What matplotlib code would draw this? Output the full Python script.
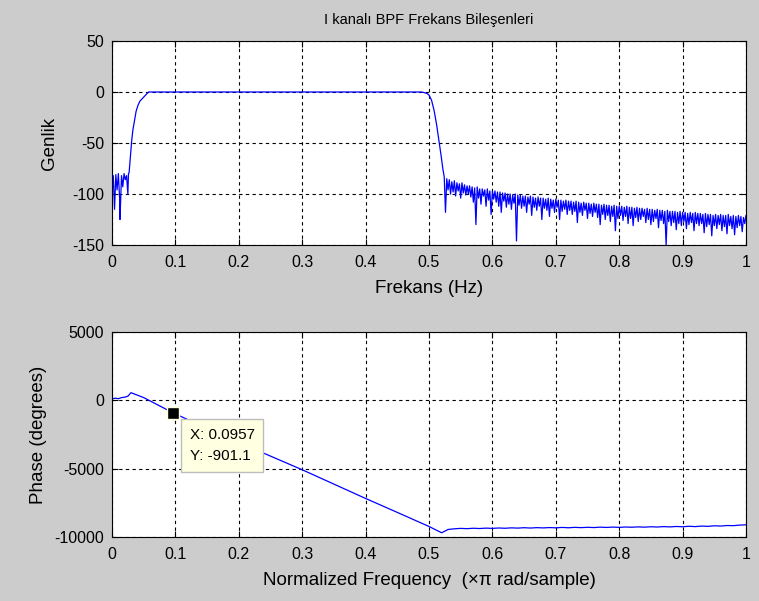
import numpy as np
import matplotlib
matplotlib.use("Agg")
import matplotlib.pyplot as plt

plt.rcParams['axes.unicode_minus'] = False
plt.rcParams['font.family'] = ['Liberation Sans', 'DejaVu Sans']

# ---------------- data: magnitude (dB) ----------------
low_x = [0.000, 0.002, 0.004, 0.006, 0.008, 0.010, 0.012, 0.0126, 0.015, 0.017,
         0.019, 0.021, 0.023, 0.025, 0.026]
low_y = [-100, -82, -115, -81, -96, -80, -104, -125, -82, -93,
         -80, -86, -82, -100, -80]
rise_x = [0.027, 0.029, 0.031, 0.033, 0.036, 0.038, 0.041, 0.044, 0.047,
          0.050, 0.053, 0.056, 0.058]
rise_y = [-79, -63, -48, -37, -26, -19, -13, -9, -7, -5, -3, -1, 0]
pass_x = [0.060, 0.488]
pass_y = [0, 0]
fall_x = [0.492, 0.497, 0.500, 0.504, 0.508, 0.512, 0.516, 0.519, 0.522]
fall_y = [-0.5, -1.5, -3, -8, -18, -32, -49, -62, -76]

stop_start, stop_step = 0.524, 0.004
stop_peaks = [
    -83, -85, -86, -88, -87, -89, -90, -89, -91, -92,
    -92, -93, -94, -93, -95, -95, -96, -95, -97, -97,
    -97, -98, -98, -99, -99, -100, -100, -101, -100, -101,
    -101, -102, -102, -103, -102, -103, -104, -103, -104, -104,
    -105, -104, -105, -106, -105, -106, -106, -107, -106, -107,
    -107, -108, -107, -108, -109, -108, -109, -109, -110, -109,
    -110, -110, -111, -110, -111, -111, -112, -111, -112, -112,
    -112, -113, -112, -113, -113, -114, -113, -114, -114, -115,
    -114, -115, -115, -116, -115, -116, -116, -117, -116, -117,
    -117, -117, -118, -117, -118, -118, -119, -118, -119, -118,
    -119, -119, -120, -119, -120, -120, -121, -120, -121, -120,
    -121, -121, -120, -122, -121, -122, -121, -122, -123, -121,
]
stop_dips = [
    -118, -96, -100, -98, -102, -97, -104, -99, -101, -100,
    -103, -108, -130, -104, -110, -102, -112, -106, -120, -105,
    -108, -112, -118, -107, -113, -110, -115, -109, -146, -111,
    -114, -112, -118, -110, -121, -113, -116, -112, -125, -114,
    -116, -122, -114, -118, -113, -125, -117, -115, -120, -116,
    -120, -117, -128, -118, -121, -116, -124, -119, -122, -118,
    -123, -130, -120, -125, -121, -127, -122, -136, -124, -121,
    -126, -122, -129, -124, -131, -123, -127, -125, -122, -128,
    -125, -130, -127, -124, -133, -126, -129, -150, -127, -131,
    -128, -135, -129, -131, -127, -134, -130, -128, -136, -129,
    -131, -129, -138, -132, -130, -141, -131, -134, -130, -136,
    -132, -139, -131, -134, -140, -133, -131, -137, -129,
]

# ---------------- data: phase (degrees) ----------------
ph_x = [0.000, 0.005, 0.010, 0.015, 0.020, 0.025, 0.030, 0.050, 0.0957,
        0.120, 0.150, 0.200, 0.250, 0.300, 0.350, 0.400, 0.450, 0.500,
        0.520, 0.530]
ph_y = [100, 160, 120, 200, 230, 300, 560, 200, -901.1,
        -1420, -2050, -3080, -4080, -5080, -6130, -7180, -8200, -9230,
        -9690, -9450]
ph_flat_start, ph_flat_step = 0.54, 0.01
ph_flat = [
    -9400, -9370, -9390, -9360, -9380, -9350, -9370, -9340, -9360, -9330,
    -9350, -9320, -9345, -9315, -9335, -9310, -9330, -9300, -9325, -9295,
    -9315, -9290, -9310, -9280, -9300, -9275, -9295, -9270, -9285, -9260,
    -9280, -9250, -9270, -9240, -9260, -9230, -9250, -9215, -9240, -9200,
    -9220, -9180, -9200, -9160, -9170, -9130, -9110,
]

tip_x, tip_y = 0.0957, -901.1

xticks = [0, 0.1, 0.2, 0.3, 0.4, 0.5, 0.6, 0.7, 0.8, 0.9, 1]
xticklabels = ['0', '0.1', '0.2', '0.3', '0.4', '0.5', '0.6', '0.7', '0.8', '0.9', '1']
mag_ticks = [-150, -100, -50, 0, 50]
ph_ticks = [-10000, -5000, 0, 5000]

# ---------------- build series ----------------
sx = [stop_start + i * stop_step for i in range(len(stop_peaks))]
stop_x, stop_y = [], []
for i, p in enumerate(stop_peaks):
    stop_x.append(sx[i]); stop_y.append(p)
    if i < len(stop_dips):
        stop_x.append(sx[i] + stop_step / 2); stop_y.append(stop_dips[i])
mag_x = low_x + rise_x + pass_x + fall_x + stop_x
mag_y = low_y + rise_y + pass_y + fall_y + stop_y

flat_x = [ph_flat_start + i * ph_flat_step for i in range(len(ph_flat))]
phase_x = ph_x + flat_x
phase_y = ph_y + ph_flat

# ---------------- figure ----------------
bg = '#cccccc'
fig = plt.figure(figsize=(7.59, 6.01), dpi=100, facecolor=bg)
ax1 = fig.add_axes([112/759, 1-245/601, 634/759, 204/601])
ax2 = fig.add_axes([112/759, 1-537/601, 634/759, 205/601])

tick_fs = 11.5
lab_fs = 13.5
title_fs = 10.5
grid_kw = dict(color='black', linestyle=(0, (3, 3)), linewidth=0.8)

for ax in (ax1, ax2):
    ax.set_facecolor('white')
    ax.set_xlim(0, 1)
    ax.set_xticks(xticks)
    ax.set_xticklabels(xticklabels)
    ax.grid(True, **grid_kw)
    ax.tick_params(direction='in', top=True, right=True, length=4,
                   colors='black', labelsize=tick_fs)
    ax.tick_params(axis='x', pad=7.5)
    ax.tick_params(axis='y', pad=5.5)
    for s in ax.spines.values():
        s.set_color('black'); s.set_linewidth(0.8)

ax1.plot(mag_x, mag_y, color='#0000ff', linewidth=0.9)
ax1.set_ylim(-150, 50)
ax1.set_yticks(mag_ticks)
ax1.set_title('I kanalı BPF Frekans Bileşenleri', fontsize=title_fs, pad=12)
ax1.set_xlabel('Frekans (Hz)', fontsize=lab_fs, labelpad=6.8)
ax1.set_ylabel('Genlik', fontsize=lab_fs, labelpad=10)

ax2.plot(phase_x, phase_y, color='#0000ff', linewidth=0.9)
ax2.set_ylim(-10000, 5000)
ax2.set_yticks(ph_ticks)
ax2.set_xlabel('Normalized Frequency  (\u00d7\u03c0 rad/sample)', fontsize=lab_fs, labelpad=6.8)
ax2.set_ylabel('Phase (degrees)', fontsize=lab_fs, labelpad=5.5)

# data tip
ax2.plot([tip_x], [tip_y], marker='s', markersize=9, color='black',
         markeredgecolor='#ffffe0', markeredgewidth=1.0, zorder=5)
ax2.annotate(f'X: {tip_x}\nY: {tip_y}', xy=(tip_x, tip_y), xytext=(17, -15),
             textcoords='offset pixels', ha='left', va='top', fontsize=11,
             linespacing=1.7,
             bbox=dict(boxstyle='square,pad=0.55', facecolor='#ffffe1',
                       edgecolor='#bdbdbd', linewidth=1.0), zorder=6)

fig.savefig('out.png', dpi=100, facecolor=bg)
